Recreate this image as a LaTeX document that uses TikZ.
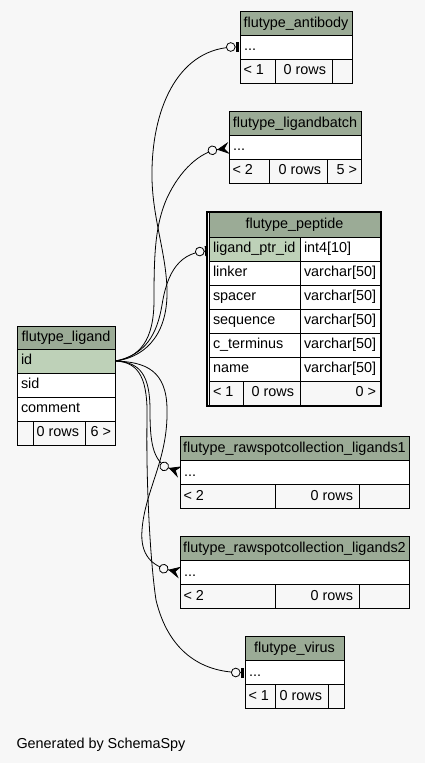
\documentclass[tikz,border=0pt]{standalone}
\usepackage{fontspec}
\setmainfont{Liberation Sans}
\usetikzlibrary{arrows.meta}
\definecolor{bgc}{HTML}{F7F7F7}
\definecolor{hdrc}{HTML}{9BAB96}
\definecolor{keyc}{HTML}{BED1B8}
\tikzset{
 hdr/.style={draw=black,fill=hdrc,line width=1pt},
 body/.style={draw=black,fill=white,line width=1pt},
 keyrow/.style={draw=black,fill=keyc,line width=1pt},
 foot/.style={draw=black,fill=bgc,line width=1pt},
 txt/.style={inner sep=0pt,outer sep=0pt,font=\fontsize{14.4}{17}\selectfont},
 rel/.style={line width=0.8pt,draw=black},
 zeroone/.style={rel,shorten >=1.5pt,-{Circle[fill=bgc,length=9.5pt,width=9.5pt,sep=0.5pt] Rectangle[length=2.5pt,width=10pt]}},
 zeromany/.style={rel,-{Circle[fill=bgc,length=9.5pt,width=9.5pt,sep=0pt] Stealth[reversed,length=12pt,width=12pt,inset=4.5pt]}}
}
\newcommand\erbox[5]{\path[#5] (#1,#2) rectangle (#3,#4);}
\newcommand\ltxt[3]{\node[txt,anchor=base west] at (#1,#2) {#3};}
\newcommand\rtxt[3]{\node[txt,anchor=base east] at (#1,#2) {#3};}
\newcommand\ctxt[3]{\node[txt,anchor=base] at (#1,#2) {#3};}
\begin{document}
\begin{tikzpicture}[x=1pt,y=-1pt]
\fill[bgc] (0,0) rectangle (425,763);
\useasboundingbox (0,0) rectangle (425,763);

% ports
\coordinate (lig-id) at (115.5,361);
\coordinate (ab-p) at (240,47);
\coordinate (lb-p) at (229,148);
\coordinate (pep-p) at (209,251);
\coordinate (r1-p) at (180,472);
\coordinate (r2-p) at (180,572.5);
\coordinate (vir-p) at (245,672.5);

% connectors
\draw[zeroone] (lig-id) .. controls (140,358) and (168,340) .. (167,290) .. controls (166,250) and (151,215) .. (152,170) .. controls (153,105) and (180,47) .. (ab-p);
\draw[zeromany] (lig-id) .. controls (140,357) and (154,340) .. (154,300) .. controls (154,255) and (155,225) .. (167,198) .. controls (180,170) and (200,152) .. (lb-p);
\draw[zeroone] (lig-id) .. controls (145,355) and (157,335) .. (162,305) .. controls (166,280) and (175,253) .. (pep-p);
\draw[zeromany] (lig-id) .. controls (140,362) and (150,375) .. (150,410) .. controls (150,440) and (152,462) .. (r1-p);
\draw[zeromany] (lig-id) .. controls (145,362) and (167,370) .. (167,410) .. controls (168,460) and (145,490) .. (142,530) .. controls (140,555) and (152,566) .. (r2-p);
\draw[zeroone] (lig-id) .. controls (140,362) and (148,380) .. (147,420) .. controls (146,480) and (150,560) .. (156,600) .. controls (168,650) and (200,672.5) .. (vir-p);

% flutype_antibody
\erbox{240}{11}{352}{35}{hdr}
\erbox{240}{35}{352}{59}{body}
\erbox{240}{59}{275}{83}{foot}
\erbox{275}{59}{332}{83}{foot}
\erbox{332}{59}{352}{83}{foot}
\ctxt{296}{27}{flutype\_antibody}
\ltxt{244}{50.5}{...}
\ltxt{243.5}{74.5}{< 1}
\rtxt{326}{74.5}{0 rows}

% flutype_ligandbatch
\erbox{229}{111}{361}{135}{hdr}
\erbox{229}{135}{361}{159}{body}
\erbox{229}{159}{269}{183}{foot}
\erbox{269}{159}{327}{183}{foot}
\erbox{327}{159}{361}{183}{foot}
\ctxt{295}{127}{flutype\_ligandbatch}
\ltxt{233}{150.5}{...}
\ltxt{232.5}{174.5}{< 2}
\rtxt{321}{174.5}{0 rows}
\rtxt{357}{174.5}{5 >}

% flutype_peptide
\erbox{209}{212}{380}{237}{hdr}
\erbox{209}{237}{300}{261}{keyrow}
\erbox{300}{237}{380}{261}{body}
\erbox{209}{261}{300}{285}{body}
\erbox{300}{261}{380}{285}{body}
\erbox{209}{285}{300}{309}{body}
\erbox{300}{285}{380}{309}{body}
\erbox{209}{309}{300}{333}{body}
\erbox{300}{309}{380}{333}{body}
\erbox{209}{333}{300}{357}{body}
\erbox{300}{333}{380}{357}{body}
\erbox{209}{357}{300}{381}{body}
\erbox{300}{357}{380}{381}{body}
\erbox{209}{381}{243}{405}{foot}
\erbox{243}{381}{300}{405}{foot}
\erbox{300}{381}{380}{405}{foot}
\draw[line width=2.4pt] (207,212.2) rectangle (380.8,405.8);
\ctxt{294.5}{228.5}{flutype\_peptide}
\ltxt{213}{252.5}{ligand\_ptr\_id}
\ltxt{304}{252.5}{int4[10]}
\ltxt{213}{276.5}{linker}
\ltxt{304}{276.5}{varchar[50]}
\ltxt{213}{300.5}{spacer}
\ltxt{304}{300.5}{varchar[50]}
\ltxt{213}{324.5}{sequence}
\ltxt{304}{324.5}{varchar[50]}
\ltxt{213}{348.5}{c\_terminus}
\ltxt{304}{348.5}{varchar[50]}
\ltxt{213}{372.5}{name}
\ltxt{304}{372.5}{varchar[50]}
\ltxt{213}{396.5}{< 1}
\rtxt{294}{396.5}{0 rows}
\rtxt{376}{396.5}{0 >}

% flutype_ligand
\erbox{17}{326}{115}{349}{hdr}
\erbox{17}{349}{115}{373}{keyrow}
\erbox{17}{373}{115}{397}{body}
\erbox{17}{397}{115}{421}{body}
\erbox{17}{421}{33}{445}{foot}
\erbox{33}{421}{85}{445}{foot}
\erbox{85}{421}{115}{445}{foot}
\ctxt{66}{341}{flutype\_ligand}
\ltxt{21}{364.5}{id}
\ltxt{21}{388.5}{sid}
\ltxt{21}{412.5}{comment}
\rtxt{79}{436.5}{0 rows}
\rtxt{111}{436.5}{6 >}

% flutype_rawspotcollection_ligands1
\erbox{180}{436.5}{409}{460.5}{hdr}
\erbox{180}{460.5}{409}{484.5}{body}
\erbox{180}{484.5}{275}{508.5}{foot}
\erbox{275}{484.5}{359}{508.5}{foot}
\erbox{359}{484.5}{409}{508.5}{foot}
\ctxt{294.5}{452.5}{flutype\_rawspotcollection\_ligands1}
\ltxt{184}{476}{...}
\ltxt{183.5}{500}{< 2}
\rtxt{353}{500}{0 rows}

% flutype_rawspotcollection_ligands2
\erbox{180}{536.5}{409}{560.5}{hdr}
\erbox{180}{560.5}{409}{584.5}{body}
\erbox{180}{584.5}{275}{608.5}{foot}
\erbox{275}{584.5}{359}{608.5}{foot}
\erbox{359}{584.5}{409}{608.5}{foot}
\ctxt{294.5}{552.5}{flutype\_rawspotcollection\_ligands2}
\ltxt{184}{576}{...}
\ltxt{183.5}{600}{< 2}
\rtxt{353}{600}{0 rows}

% flutype_virus
\erbox{245}{636.5}{344}{660.5}{hdr}
\erbox{245}{660.5}{344}{684.5}{body}
\erbox{245}{684.5}{275}{708.5}{foot}
\erbox{275}{684.5}{328}{708.5}{foot}
\erbox{328}{684.5}{344}{708.5}{foot}
\ctxt{294.5}{652.5}{flutype\_virus}
\ltxt{249}{676}{...}
\ltxt{248.5}{700}{< 1}
\rtxt{322}{700}{0 rows}

\ltxt{16.5}{748}{Generated by SchemaSpy}
\end{tikzpicture}
\end{document}
